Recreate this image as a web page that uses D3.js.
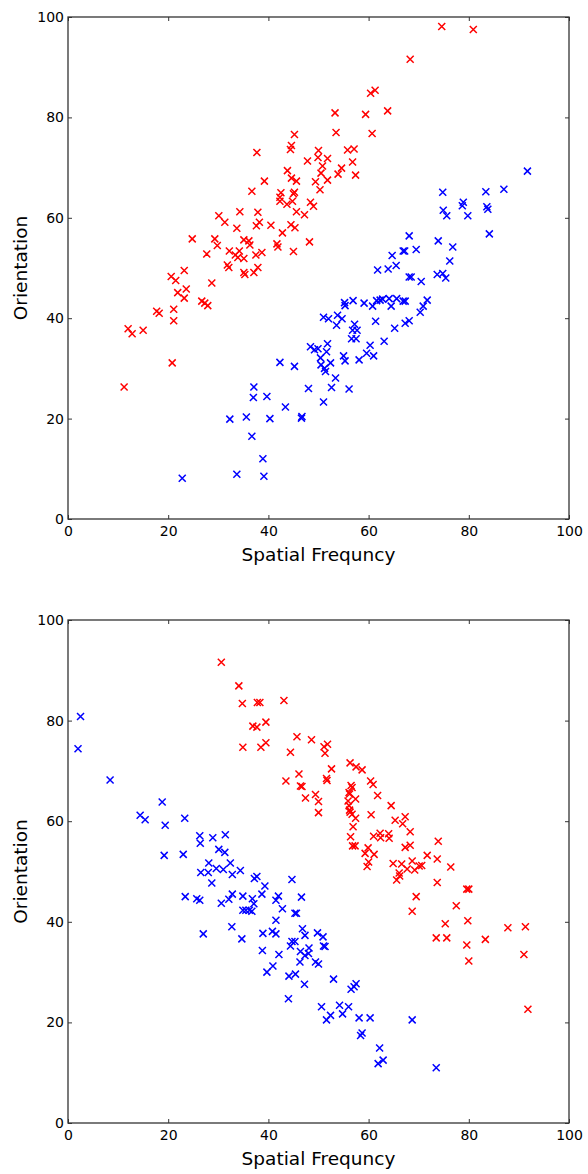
<!DOCTYPE html>
<html><head><meta charset="utf-8">
<script src="https://cdn.jsdelivr.net/npm/d3@7/dist/d3.min.js"></script>
<style>body{margin:0;background:#fff;}svg{display:block;}</style>
</head><body>
<script>
const xTicks = [0, 20, 40, 60, 80, 100];
const yTicks = [0, 20, 40, 60, 80, 100];
const xLabel = "Spatial Frequncy";
const yLabel = "Orientation";

const topRed = [[11.2,26.3],[12,37.9],[12.8,36.9],[15,37.6],[17.7,41.4],[18.2,41],[20.8,31.1],[21.1,41.8],[21.1,39.5],[20.6,48.3],[21.5,47.5],[21.9,45.1],[23.6,45.8],[23.2,44],[23.2,49.5],[24.8,55.8],[26.7,43.4],[27.3,43],[27.9,42.5],[27.7,52.8],[28.7,47],[29.3,55.8],[29.8,54.5],[30.1,60.4],[31.3,59.1],[31.8,50.6],[32.1,50.1],[32.2,53.4],[33.4,52.6],[34.2,53.4],[33.9,52.1],[35.1,51.9],[33.7,57.9],[34.3,61.2],[35.1,55.6],[36.1,55.4],[36.3,54.6],[35.1,49.1],[35.3,48.7],[36.7,65.3],[37.1,49.1],[37.9,50.1],[37.5,52.6],[38.7,53.1],[37.7,73],[37.9,61.1],[38.2,59.1],[37.6,58.4],[39.2,67.3],[40.5,58.5],[41.7,54.8],[41.9,54.2],[42.5,65],[42.3,64.1],[42.3,63.3],[42.8,57],[43.8,69.4],[43.7,62.7],[44.8,63.3],[44.6,74.4],[44.4,73.6],[45.2,76.6],[44.6,67.9],[45.6,67.3],[45.2,65.1],[45,64.8],[44.5,58.6],[45.3,58],[45,53.3],[45.6,61.2],[47.2,60.6],[47.8,71.3],[48.4,63.1],[49,62.3],[48.2,55.2],[49.4,67.2],[50,73.4],[49.9,72],[51.8,71.8],[50.8,70.3],[50.5,68.9],[51.8,67.5],[50.3,65.6],[53.3,80.9],[53.5,77],[54.6,69.9],[53.9,68.7],[55.8,73.5],[57.1,73.7],[56.8,71.1],[57.4,68.5],[59.4,80.6],[60.4,84.8],[61.3,85.4],[60.7,76.8],[63.8,81.3],[68.3,91.6],[74.6,98.1],[80.9,97.5]];

const topBlue = [[22.8,8.1],[33.7,8.9],[39.1,8.5],[38.9,12],[36.7,16.5],[32.3,19.9],[35.6,20.3],[40.3,20],[37.1,26.3],[37,24.2],[39.7,24.4],[43.4,22.3],[46.6,20.1],[46.7,20.4],[42.3,31.2],[45.2,30.4],[48,26],[48.4,34.3],[49.2,33.7],[49.9,33.9],[51,23.3],[52.6,26.2],[53.4,28.1],[50.4,32.1],[50.5,30.7],[52.4,31.1],[51.2,30],[51.4,29.4],[51.8,34.9],[51.6,33.3],[51,40.2],[52,39.9],[53.8,40.6],[54.7,39.9],[53.6,38.6],[55,32.5],[55.3,31.5],[56.1,25.9],[58.1,31.7],[55.2,43.1],[55.3,42.5],[56.9,43.5],[57.2,38.8],[56.8,37.6],[57.7,37.6],[56.6,35.9],[57.5,35.9],[59.1,43],[60.3,34.6],[59.6,33],[61,32.5],[60.8,42.4],[61.6,43.5],[62.3,43.6],[62.8,43.8],[64.1,43.9],[64.5,42.4],[65.6,43.9],[66.9,43.4],[67.3,43.4],[61.4,39.4],[63.1,35.4],[65.2,38],[67.3,39],[68.1,39.5],[70.3,41.2],[70.9,42.4],[71.7,43.6],[61.8,49.6],[63.9,49.8],[65.5,50.5],[64.7,52.5],[66.9,53.4],[67.2,53.4],[69.5,53.7],[68.1,48.2],[68.5,48.2],[70.5,47.3],[68.1,56.4],[73.9,55.4],[73.7,48.7],[74.8,48.9],[75.4,48],[76.2,51.4],[76.8,54.2],[84.1,56.8],[74.8,65.1],[74.9,61.5],[75.6,60.4],[78.9,63.1],[78.7,62.4],[79.8,60.4],[83.6,62.2],[83.8,61.7],[83.4,65.2],[87,65.7],[91.7,69.3]];

const bottomRed = [[30.6,91.6],[34.1,86.9],[34.8,83.4],[37.8,83.6],[38.3,83.6],[43.1,84],[36.9,78.9],[37.7,78.7],[39.5,79.7],[34.9,74.7],[38.5,74.7],[39.5,75.6],[45.7,76.8],[48.6,76.2],[44.4,73.7],[46.1,69.4],[43.5,68],[46.4,67],[46.7,66.9],[47.4,64.6],[49.4,65.3],[50,63.9],[50,61.7],[51.1,74.8],[51.8,75.3],[51.3,73.5],[52.6,70.4],[56.3,71.6],[57.5,70.8],[58.7,70.2],[51.6,68.5],[51.7,68.1],[56.5,67.1],[56.7,66.7],[56.1,65.7],[56.2,65.4],[57.4,64.4],[55.9,64],[56.1,63.1],[56.2,62.2],[56.3,61.8],[56.7,61.4],[57.4,60.6],[60.4,68],[60.9,67.3],[61.8,65.1],[60.5,61.3],[56.9,58.9],[56.4,56.9],[56.8,55.1],[57.3,55.1],[64.5,63.1],[65.3,60.2],[67.3,60.9],[66.8,59.5],[68.3,57.9],[61,57],[62.3,57.6],[62.4,56.7],[64,57.5],[64.1,56.6],[67.3,54.8],[68.3,55.2],[59.9,54.7],[59.3,53.6],[61.1,53.4],[60,51.9],[59.7,51],[64.9,51.6],[66.6,51.5],[68.7,52.1],[69.2,50.3],[70.1,51.1],[70.6,51.2],[66.1,49.7],[66.2,49.1],[65.6,48.3],[71.7,53.2],[73.7,52.5],[73.9,56],[76.4,50.9],[73.7,47.8],[69.5,45],[79.6,46.5],[80,46.5],[68.7,42.1],[77.5,43.2],[75.3,39.6],[79.8,40.2],[73.5,36.8],[75.6,36.8],[79.6,35.4],[83.3,36.5],[87.8,38.8],[91.3,39],[80,32.2],[91,33.5],[91.8,22.6],[67.7,50.5]];

const bottomBlue = [[2.5,80.8],[2,74.4],[8.4,68.2],[18.8,63.8],[14.4,61.2],[15.4,60.3],[19.4,59.2],[23.3,60.6],[19.2,53.2],[23,53.4],[26.3,57.1],[26.4,55.6],[28.9,56.7],[31.4,57.3],[30.1,54.4],[31.3,53.8],[28.1,51.7],[32.4,51.7],[26.5,49.8],[28,49.8],[29.6,50.6],[31,50.4],[32.8,49.4],[34.4,50.2],[37.2,48.6],[37.7,49],[44.7,48.4],[23.4,45],[25.7,44.6],[26.3,44.3],[27,37.6],[28.7,47.7],[30.6,43.7],[32.1,44.5],[32.8,45.5],[34.9,45.1],[36.8,44.6],[37.1,43.6],[34.9,42.3],[35.5,42.3],[36.2,42.3],[36.7,42.1],[32.7,39],[34.7,36.6],[38.7,45.5],[39.3,47.1],[46.6,44.9],[41.5,44.3],[42,45.1],[42.8,42.6],[45.3,41.7],[45.6,41.7],[41.5,40.3],[38.9,37.7],[40.8,38.1],[41.5,37.6],[38.8,34.3],[42.1,33.5],[39.7,30],[40.9,31.2],[46.8,38.6],[47.3,37.3],[44.7,36.1],[45.3,36.1],[44.4,35.2],[46.4,34.1],[46.3,32],[47.3,33.3],[48,33.7],[48.1,34.8],[49.8,37.8],[50.9,37],[51,35.2],[51.3,35.1],[49.4,32],[50,31.6],[44.1,29.2],[45.4,29.6],[47.2,27.6],[44,24.7],[53,28.6],[50.6,23.1],[52.4,21.4],[51.6,20.5],[54.2,23.4],[54.8,21.7],[56,23.1],[56.5,26.6],[57.1,27.1],[57.5,27.7],[58.1,20.9],[60.3,20.9],[58.7,17.9],[58.4,17.4],[68.7,20.5],[62.2,14.9],[61.9,11.8],[62.9,12.5],[73.5,11]];

const W = 588, H = 1174;
const svg = d3.select("body").append("svg").attr("width", W).attr("height", H)
  .style("font-family", "'DejaVu Sans', sans-serif");

const panels = [
  {top: 17, bottom: 519, series: [[topRed, "#ff0000"], [topBlue, "#0000ff"]]},
  {top: 620, bottom: 1123, series: [[bottomRed, "#ff0000"], [bottomBlue, "#0000ff"]]}
];
const left = 68, right = 569;
const tickLen = 4;

panels.forEach(p => {
  const x = d3.scaleLinear().domain([0, 100]).range([left, right]);
  const y = d3.scaleLinear().domain([0, 100]).range([p.bottom, p.top]);
  const g = svg.append("g");

  p.series.forEach(([data, color]) => {
    const s = 3.5;
    g.append("g").selectAll("path").data(data).join("path")
      .attr("d", d => {
        const cx = x(d[0]), cy = y(d[1]);
        return `M${cx - s},${cy - s}L${cx + s},${cy + s}M${cx - s},${cy + s}L${cx + s},${cy - s}`;
      })
      .attr("stroke", color).attr("stroke-width", 1.5).attr("fill", "none");
  });

  const axB = g.append("g").attr("transform", `translate(0,${p.bottom})`)
    .call(d3.axisBottom(x).tickValues(xTicks).tickSize(-tickLen).tickPadding(7).tickFormat(d3.format("d")));
  const axT = g.append("g").attr("transform", `translate(0,${p.top})`)
    .call(d3.axisTop(x).tickValues(xTicks).tickSize(-tickLen).tickFormat(""));
  const axL = g.append("g").attr("transform", `translate(${left},0)`)
    .call(d3.axisLeft(y).tickValues(yTicks).tickSize(-tickLen).tickPadding(4).tickFormat(d3.format("d")));
  const axR = g.append("g").attr("transform", `translate(${right},0)`)
    .call(d3.axisRight(y).tickValues(yTicks).tickSize(-tickLen).tickFormat(""));
  [axB, axT, axL, axR].forEach(a => {
    a.select(".domain").remove();
    a.selectAll("line").attr("stroke", "#333").attr("stroke-width", 1);
    a.selectAll("text").attr("fill", "#000").style("font-size", "14px").style("font-family", "'DejaVu Sans', sans-serif");
  });

  g.append("rect").attr("x", left).attr("y", p.top).attr("width", right - left).attr("height", p.bottom - p.top)
    .attr("fill", "none").attr("stroke", "#333").attr("stroke-width", 1.3);

  g.append("text").attr("x", (left + right) / 2).attr("y", p.bottom + 42)
    .attr("text-anchor", "middle").style("font-size", "18.5px").text(xLabel);
  g.append("text").attr("transform", `translate(27,${(p.top + p.bottom) / 2}) rotate(-90)`)
    .attr("text-anchor", "middle").style("font-size", "18.5px").text(yLabel);
});
</script>
</body></html>
